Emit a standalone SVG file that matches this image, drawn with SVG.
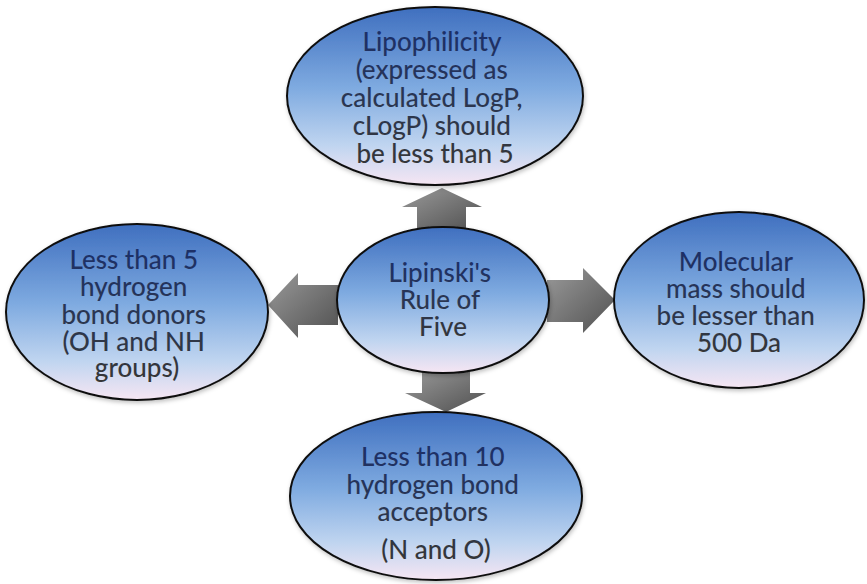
<svg xmlns="http://www.w3.org/2000/svg" width="867" height="584" viewBox="0 0 867 584">
  <defs>
    <linearGradient id="bubbleFill" x1="0" y1="0" x2="0" y2="1">
      <stop offset="0" stop-color="#3f6fbf"/>
      <stop offset="0.45" stop-color="#7eaae0"/>
      <stop offset="0.78" stop-color="#c0d5f0"/>
      <stop offset="1" stop-color="#f6e6f3"/>
    </linearGradient>
    <linearGradient id="labelInk" x1="0" y1="0" x2="0" y2="1">
      <stop offset="0" stop-color="#1b2f6a"/>
      <stop offset="0.55" stop-color="#2b3650"/>
      <stop offset="1" stop-color="#363636"/>
    </linearGradient>
    <linearGradient id="arrowFill" x1="0" y1="0" x2="1" y2="1">
      <stop offset="0" stop-color="#9a9a9a"/>
      <stop offset="1" stop-color="#505050"/>
    </linearGradient>
    <filter id="softShadow" x="-10%" y="-10%" width="120%" height="125%">
      <feDropShadow dx="1" dy="2" stdDeviation="2" flood-color="#000" flood-opacity="0.25"/>
    </filter>
  </defs>
  <style>
    .bubble { fill: url(#bubbleFill); stroke: #111; stroke-width: 2; filter: url(#softShadow); }
    .label { font-family: Lato, "Open Sans", "Liberation Sans", sans-serif; font-size: 26px; font-weight: 500; fill: url(#labelInk); text-anchor: middle; }
    .arrow { fill: url(#arrowFill); }
  </style>
  <rect width="867" height="584" fill="#ffffff"/>

  <!-- block arrows radiating from the hub -->
  <g id="connectors">
    <polygon class="arrow" points="442,188 482,207 466,207 466,230 417,230 417,207 402,207"/>
    <polygon class="arrow" points="422,371 470,371 470,393 486,393 446,412 405,393 422,393"/>
    <polygon class="arrow" points="268,305 298,273 298,285 338,285 338,325 298,325 298,338"/>
    <polygon class="arrow" points="547,280 583,280 583,268 615,300 583,333 583,322 547,322"/>
  </g>

  <g id="node-lipophilicity">
    <ellipse class="bubble" cx="435" cy="96" rx="148" ry="89"/>
    <text class="label">
      <tspan x="435" y="51">Lipophilicity</tspan>
      <tspan x="435" y="79">(expressed as</tspan>
      <tspan x="435" y="107">calculated LogP,</tspan>
      <tspan x="435" y="135">cLogP) should</tspan>
      <tspan x="435" y="163">be less than 5</tspan>
    </text>
  </g>

  <g id="node-hub">
    <ellipse class="bubble" cx="443" cy="300" rx="106" ry="73"/>
    <text class="label">
      <tspan x="443" y="282">Lipinski's</tspan>
      <tspan x="443" y="309">Rule of</tspan>
      <tspan x="443" y="336">Five</tspan>
    </text>
  </g>

  <g id="node-donors">
    <ellipse class="bubble" cx="137" cy="312" rx="131" ry="88"/>
    <text class="label">
      <tspan x="137" y="269">Less than 5</tspan>
      <tspan x="137" y="296">hydrogen</tspan>
      <tspan x="137" y="324">bond donors</tspan>
      <tspan x="137" y="351">(OH and NH</tspan>
      <tspan x="137" y="377">groups)</tspan>
    </text>
  </g>

  <g id="node-mass">
    <ellipse class="bubble" cx="739" cy="300" rx="125" ry="88"/>
    <text class="label">
      <tspan x="739" y="271">Molecular</tspan>
      <tspan x="739" y="298">mass should</tspan>
      <tspan x="739" y="325">be lesser than</tspan>
      <tspan x="739" y="352">500 Da</tspan>
    </text>
  </g>

  <g id="node-acceptors">
    <ellipse class="bubble" cx="436" cy="496" rx="146" ry="84"/>
    <text class="label">
      <tspan x="436" y="466">Less than 10</tspan>
      <tspan x="436" y="494">hydrogen bond</tspan>
      <tspan x="436" y="521">acceptors</tspan>
      <tspan x="436" y="559">(N and O)</tspan>
    </text>
  </g>
</svg>
